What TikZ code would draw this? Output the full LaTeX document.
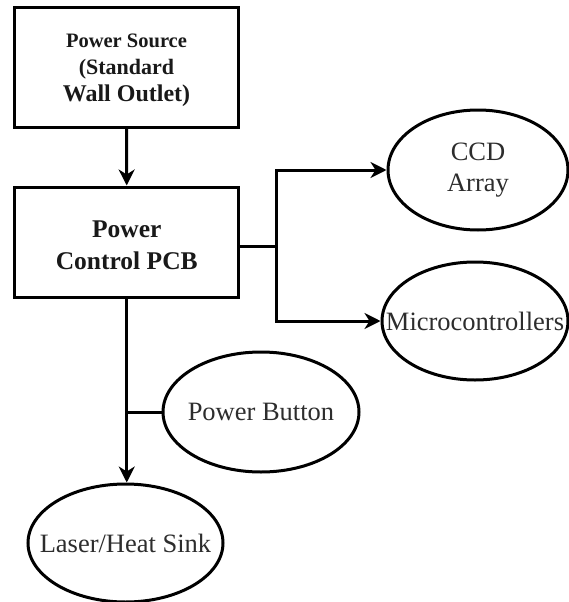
\documentclass[tikz,border=0pt]{standalone}
\usepackage{fontspec}
\setmainfont{LiberationSerif}[Extension=.ttf,UprightFont=*-Regular,BoldFont=*-Bold,ItalicFont=*-Italic,BoldItalicFont=*-BoldItalic]
\newfontfamily\diagserif{LiberationSerif}[Extension=.ttf,UprightFont=*-Regular,BoldFont=*-Bold,ItalicFont=*-Italic,BoldItalicFont=*-BoldItalic]
\usetikzlibrary{arrows.meta,shapes.geometric}
\definecolor{elltext}{RGB}{45,45,45}
\tikzset{
  conn/.style={line width=3pt},
  arr/.style={conn,-{Stealth[length=16pt,width=16pt,inset=5pt]}},
  blockbox/.style={draw,line width=3pt,rectangle,minimum width=224pt,inner sep=0pt,align=center,text=black!90},
  ellbox/.style={draw,line width=3pt,ellipse,inner sep=0pt,align=center,text=elltext,font=\diagserif\fontsize{26.5}{31}\selectfont},
}
\begin{document}
\begin{tikzpicture}[x=1pt,y=-1pt]
\useasboundingbox[fill=white] (0,0) rectangle (569,602);
\node[blockbox,minimum height=119pt,font=\diagserif\bfseries\fontsize{22}{27}\selectfont] (src) at (126.5,67.5)
  {{\fontsize{20.5}{26}\selectfont\rule{0pt}{20pt}Power Source}\\
   {\fontsize{22}{28}\selectfont (Standard\hspace*{16pt}}\\
   {\fontsize{24}{28}\selectfont Wall Outlet)}};
\node[blockbox,minimum height=110pt,font=\diagserif\bfseries\fontsize{25.5}{32}\selectfont] (pcb) at (126.75,242)
  {\rule{0pt}{24pt}Power\\Control PCB};
\node[ellbox,minimum width=180pt,minimum height=120pt] (ccd) at (478,170) {CCD\\Array};
\node[ellbox,minimum width=186pt,minimum height=118pt] (mc) at (475,321) {\makebox[0pt][c]{Microcontrollers}};
\node[ellbox,minimum width=196pt,minimum height=120pt] (pb) at (261,412) {\makebox[0pt][c]{Power Button}};
\node[ellbox,minimum width=195pt,minimum height=118pt] (laser) at (125.5,543) {\makebox[0pt][c]{Laser/Heat Sink}};
\coordinate (j) at (276,246);
\draw[arr] (src.south) -- (pcb.north);
\draw[conn] (pcb.east |- j) -- (j);
\draw[arr] ([yshift=-1.5pt]j) |- (ccd.west);
\draw[arr] ([yshift=1.5pt]j) |- (mc.west);
\draw[arr] (pcb.south) -- (pcb.south |- laser.north);
\draw[conn] (pb.west) -- (pb.west -| pcb.south);
\end{tikzpicture}
\end{document}
